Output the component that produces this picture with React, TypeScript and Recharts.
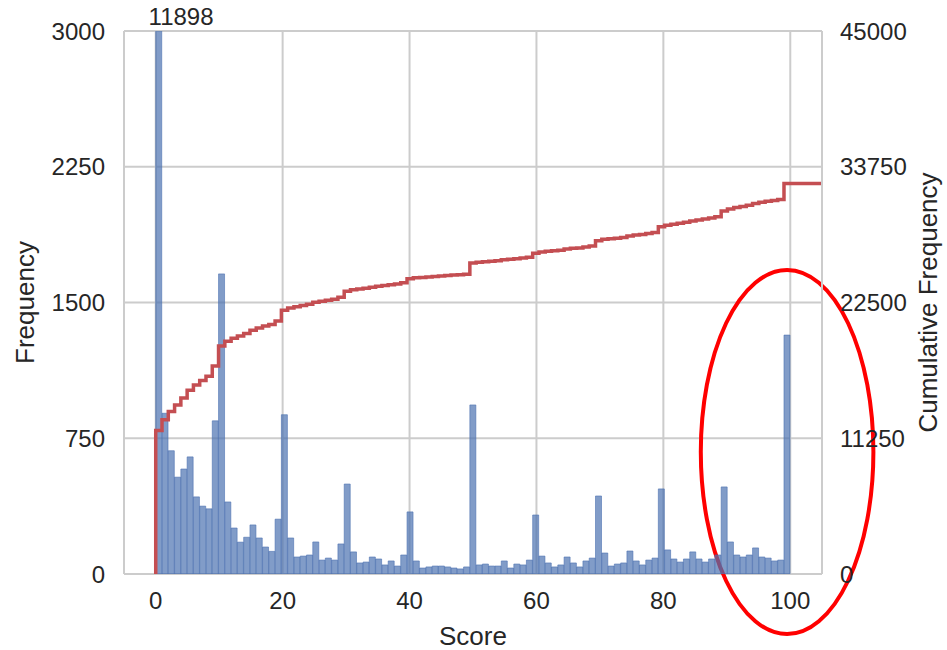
import {
  ComposedChart,
  Bar,
  Line,
  XAxis,
  YAxis,
  CartesianGrid,
  ReferenceDot,
  ReferenceArea,
} from "recharts";

// counts per score (bins 0..100), 101 bins over [0, 100]
const SCORE_COUNTS = [
  11898, 888, 681, 535, 580, 647, 426, 375, 360, 846,
  1658, 398, 254, 176, 203, 271, 199, 149, 125, 303,
  880, 199, 94, 99, 105, 177, 77, 88, 77, 166,
  497, 122, 61, 66, 94, 83, 50, 72, 44, 105,
  343, 72, 33, 39, 44, 44, 39, 33, 28, 39,
  934, 50, 55, 44, 44, 72, 33, 55, 50, 77,
  326, 99, 61, 39, 50, 94, 61, 39, 72, 88,
  431, 116, 44, 55, 61, 127, 72, 50, 77, 88,
  470, 133, 83, 66, 83, 122, 83, 66, 83, 105,
  481, 177, 105, 94, 105, 144, 94, 88, 72, 77,
  1320,
];

const SCORE_TICKS = [0, 20, 40, 60, 80, 100];
const FREQ_TICKS = [0, 750, 1500, 2250, 3000];
const CUM_TICKS = [0, 11250, 22500, 33750, 45000];

const SCORE_DOMAIN: [number, number] = [-5, 105];
const BIN_WIDTH = 100 / SCORE_COUNTS.length;

// highlight ring around the top scores (score / frequency units)
const HIGHLIGHT = { x1: 85.9, x2: 113.1, y1: -332, y2: 1680 };
// where the clipped first bar gets its count written
const PEAK_LABEL_AT = 4;

const bins = SCORE_COUNTS.map((count, i) => ({
  x: (i + 0.5) * BIN_WIDTH,
  freq: count,
}));

// running total, stepping up at each bin's left edge
const cumulative: { x: number; cum: number }[] = [{ x: 0, cum: 0 }];
let running = 0;
SCORE_COUNTS.forEach((count, i) => {
  running += count;
  cumulative.push({ x: i * BIN_WIDTH, cum: running });
});
cumulative.push({ x: SCORE_DOMAIN[1], cum: running });

const FONT = "'Liberation Sans', Arial, sans-serif";
const INK = "#262626";
const GRID = "#cccccc";

const tickStyle = { fontSize: 24, fill: INK, fontFamily: FONT };

function verticalTitle(text: string, baselineOffset: number) {
  return ({ viewBox }: any) => {
    const x = viewBox.x + baselineOffset;
    const y = viewBox.y + viewBox.height / 2;
    return (
      <text
        x={x}
        y={y}
        transform={`rotate(-90 ${x} ${y})`}
        textAnchor="middle"
        fontSize={26}
        fontFamily={FONT}
        fill={INK}
      >
        {text}
      </text>
    );
  };
}

const ellipseShape = (p: any) => (
  <ellipse
    cx={p.x + p.width / 2}
    cy={p.y + p.height / 2}
    rx={Math.abs(p.width) / 2}
    ry={Math.abs(p.height) / 2}
    fill="none"
    stroke="#ff0000"
    strokeWidth={4}
  />
);

export default function App() {
  return (
    <div style={{ position: "absolute", left: 0, top: 0, fontFamily: FONT }}>
      <ComposedChart
        width={947}
        height={650}
        data={bins}
        margin={{ top: 31, right: 0, bottom: 0, left: 0 }}
        barCategoryGap={0}
        barGap={0}
      >
        <CartesianGrid stroke={GRID} strokeWidth={2} yAxisId="left" />
        <XAxis
          type="number"
          dataKey="x"
          domain={SCORE_DOMAIN}
          ticks={SCORE_TICKS}
          allowDataOverflow
          height={76}
          axisLine={false}
          tickLine={false}
          tickSize={0}
          tickMargin={18}
          tick={tickStyle}
          label={{
            value: "Score",
            position: "insideBottom",
            offset: 5,
            fontSize: 26,
            fill: INK,
            fontFamily: FONT,
          }}
        />
        <XAxis
          xAxisId="cum"
          type="number"
          dataKey="x"
          domain={SCORE_DOMAIN}
          allowDataOverflow
          hide
        />
        <YAxis
          yAxisId="left"
          domain={[0, 3000]}
          ticks={FREQ_TICKS}
          allowDataOverflow
          width={124}
          axisLine={{ stroke: GRID, strokeWidth: 2 }}
          tickLine={false}
          tickSize={0}
          tickMargin={19}
          tick={tickStyle}
          label={{ content: verticalTitle("Frequency", 34) }}
        />
        <YAxis
          yAxisId="right"
          orientation="right"
          domain={[0, 45000]}
          ticks={CUM_TICKS}
          allowDataOverflow
          width={125}
          axisLine={{ stroke: GRID, strokeWidth: 2 }}
          tickLine={false}
          tickSize={0}
          tickMargin={18}
          tick={tickStyle}
          label={{ content: verticalTitle("Cumulative Frequency", 115) }}
        />
        <Bar
          yAxisId="left"
          dataKey="freq"
          fill="#4c72b0"
          fillOpacity={0.7}
          stroke="#4c72b0"
          strokeOpacity={0.8}
          strokeWidth={0.75}
          isAnimationActive={false}
        />
        <Line
          xAxisId="cum"
          yAxisId="right"
          data={cumulative}
          dataKey="cum"
          type="stepAfter"
          stroke="#c44e52"
          strokeWidth={3.5}
          dot={false}
          activeDot={false}
          isAnimationActive={false}
        />
        <ReferenceDot
          yAxisId="left"
          x={PEAK_LABEL_AT}
          y={3000}
          r={1}
          fill="none"
          stroke="none"
          label={{
            value: String(SCORE_COUNTS[0]),
            position: "top",
            offset: 5,
            fontSize: 24,
            fill: INK,
            fontFamily: FONT,
          }}
        />
        <ReferenceArea
          yAxisId="left"
          x1={HIGHLIGHT.x1}
          x2={HIGHLIGHT.x2}
          y1={HIGHLIGHT.y1}
          y2={HIGHLIGHT.y2}
          ifOverflow="visible"
          shape={ellipseShape}
        />
      </ComposedChart>
    </div>
  );
}
